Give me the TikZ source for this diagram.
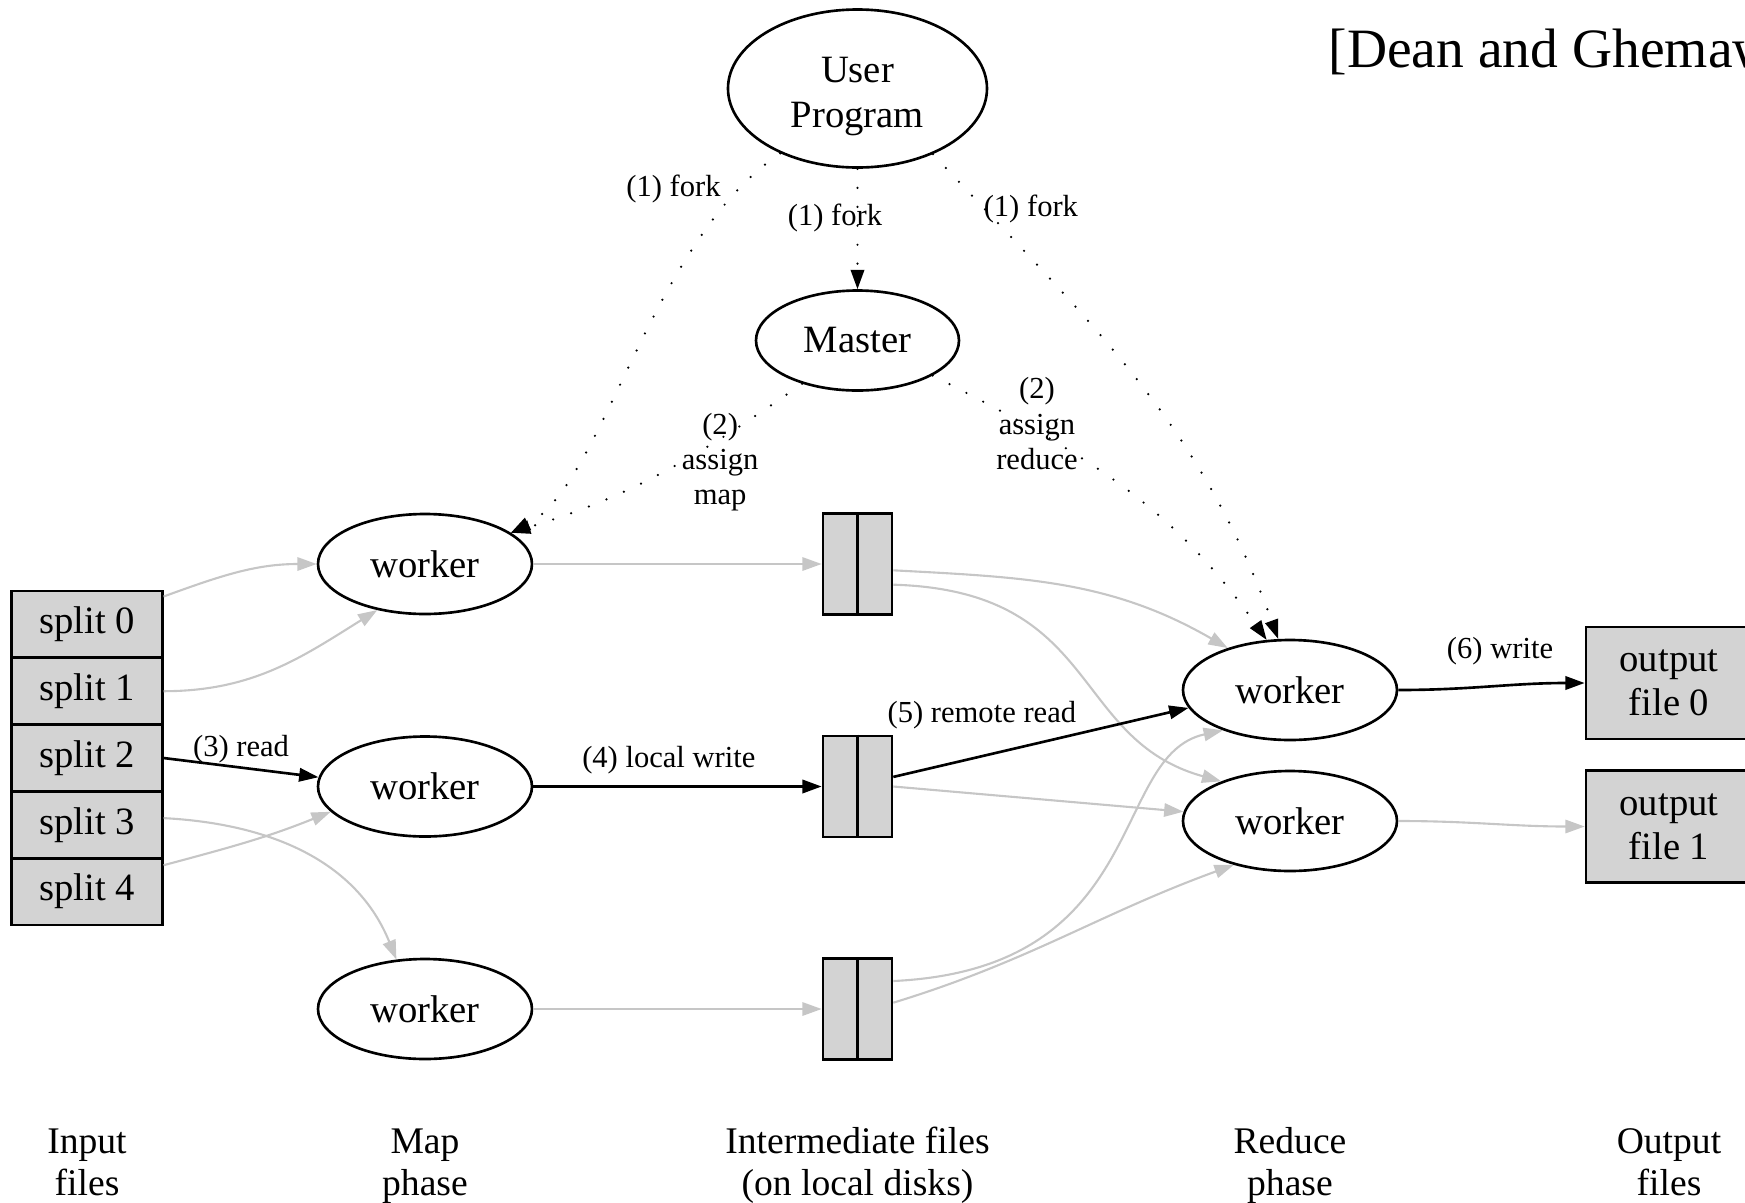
\documentclass[tikz,border=0pt]{standalone}
\usepackage{fontspec}
\setmainfont{Liberation Serif}
\usepackage{tikz}
\usetikzlibrary{shapes.geometric,arrows.meta,positioning}
\definecolor{boxfill}{HTML}{D3D3D3}
\definecolor{edgegray}{HTML}{C6C6C6}

\begin{document}
\begin{tikzpicture}[ on grid ,
  proc/.style = { ellipse , draw , line width=0.75pt , inner sep=0pt , minimum width=2.14cm , minimum height=1.0cm , align=center , font=\fontsize{11}{13}\selectfont },
  splitbox/.style = { rectangle , draw , fill=boxfill , line width=0.75pt , inner sep=0pt , minimum width=1.505cm , minimum height=0.668cm , font=\fontsize{11}{12.5}\selectfont },
  outbox/.style = { splitbox , minimum width=1.66cm , minimum height=1.12cm , align=center },
  disk/.style = { rectangle , draw , fill=boxfill , line width=0.75pt , minimum width=0.69cm , minimum height=1.01cm },
  flow/.style = { -{Triangle[length=5.5pt,width=3.8pt]} , line width=0.75pt },
  faint/.style = { flow , edgegray , line width=0.6pt },
  ctrl/.style = { flow , line width=0.7pt , line cap=round , dash pattern=on 0pt off 5.4pt },
  lbl/.style = { inner sep=1pt , align=center , font=\fontsize{8.7}{10}\selectfont },
  phase/.style = { align=center , font=\fontsize{10.7}{12}\selectfont }
]
\useasboundingbox (0,0) rectangle (17.45,-12.03);
\clip (0,0) rectangle (17.45,-12.03);

% nodes
\node [ proc , minimum width=2.59cm , minimum height=1.58cm ] (user) at (8.575,-0.885) {\rule{0pt}{11.7pt}User\\Program};
\node [ proc , minimum width=2.03cm ] (master) [below = 2.52cm of user] {Master};

\node [ splitbox ] (s_0) at (0.87,-6.244) {split 0};
\node [ splitbox ] (s_1) [below = 0.668cm of s_0] {split 1};
\node [ splitbox ] (s_2) [below = 0.668cm of s_1] {split 2};
\node [ splitbox ] (s_3) [below = 0.668cm of s_2] {split 3};
\node [ splitbox ] (s_4) [below = 0.668cm of s_3] {split 4};

\node [ proc ] (m_1) at (4.25,-5.64) {worker};
\node [ proc ] (m_2) [below = 2.225cm of m_1] {worker};
\node [ proc ] (m_3) [below = 2.225cm of m_2] {worker};

\node [ disk ] (i_1) [right = 4.325cm of m_1] {};
\node [ disk ] (i_2) [right = 4.325cm of m_2] {};
\node [ disk ] (i_3) [right = 4.325cm of m_3] {};
\foreach \i in {1,2,3} \draw [ line width=0.75pt ] (i_\i.north) -- (i_\i.south);

\node [ proc ] (r_0) at (12.90,-6.90) {worker};
\node [ proc ] (r_1) [below = 1.31cm of r_0] {worker};

\node [ outbox ] (o_0) at (16.69,-6.83) {output\\file 0};
\node [ outbox ] (o_1) [below = 1.435cm of o_0] {output\\file 1};

\node [ anchor=base west , inner sep=0pt , font=\fontsize{15.8}{19}\selectfont ] (cite) at (13.28,-0.67) {[Dean and Ghemawat]};

% phase captions
\node [ phase ] (p_in) at (0.87,-11.66) {\strut Input\\files\strut};
\node [ phase ] (p_map) at (4.25,-11.66) {\strut Map\\phase\strut};
\node [ phase ] (p_mid) at (8.575,-11.66) {\strut Intermediate files\\(on local disks)\strut};
\node [ phase ] (p_red) at (12.90,-11.66) {\strut Reduce\\phase\strut};
\node [ phase ] (p_out) at (16.69,-11.66) {\strut Output\\files\strut};

% data flow
\path [ faint ]
(s_0.20) edge [out=20, in=180] (m_1.west)
(s_1.east) edge [out=0, in=212] (m_1.224)
(s_3.5) edge [out=-3, in=112] (m_3.120)
(s_4.19) edge [out=15, in=202] (m_2.195)
(m_1) edge (i_1)
(m_3) edge (i_3)
(i_1.-10) edge [out=-3, in=150] (r_0.146)
(i_2.east) edge (r_1.175)
(i_3.10) edge [out=17, in=200] (r_1.218)
(r_1) edge [out=0, in=180] (o_1);
\draw [ faint ] (i_1.-30) .. controls +(2.08,-0.06) and +(-1.52,0.42) .. (r_1.150);
\draw [ faint ] (i_3.38) .. controls +(2.58,0.12) and +(-1.14,-0.25) .. (r_0.211);

\path [ flow ]
(s_2.east) edge node [ lbl , above ] {(3) read} (m_2.175)
(m_2) edge node [ lbl , pos=0.47 , above=0.8mm ] {(4) local write} (i_2)
(i_2.15) edge node [ lbl , pos=0.3 , above=2.2mm ] {(5) remote read} (r_0.190)
(r_0) edge [out=0, in=180] node [ lbl , pos=0.55 , above=1.6mm ] {(6) write} (o_0);

% control
\draw [ ctrl ] (user.220) .. controls +(-1.31,-0.88) and +(0.93,0.48) .. node [ lbl , pos=0.1 , anchor=east , xshift=-1.8mm , yshift=-0.5mm ] {(1) fork} (m_1.20);
\path [ ctrl ]
(user) edge node [ lbl , pos=0.41 , xshift=-2.25mm ] {(1) fork} (master)
(user.-41) edge [out=-47, in=110] node [ lbl , pos=0.1 , anchor=west , yshift=-0.6mm ] {(1) fork} (r_0.103)
(master.218) edge [out=215, in=17] node [ lbl , pos=0.3 , xshift=0.4mm , yshift=-2.1mm ] {(2)\\assign\\map} (m_1.20)
(master.-25) edge [out=-27, in=125] node [ lbl , pos=0.25 , xshift=0.3mm , yshift=0.6mm ] {(2)\\assign\\reduce} (r_0.115);
\end{tikzpicture}
\end{document}
